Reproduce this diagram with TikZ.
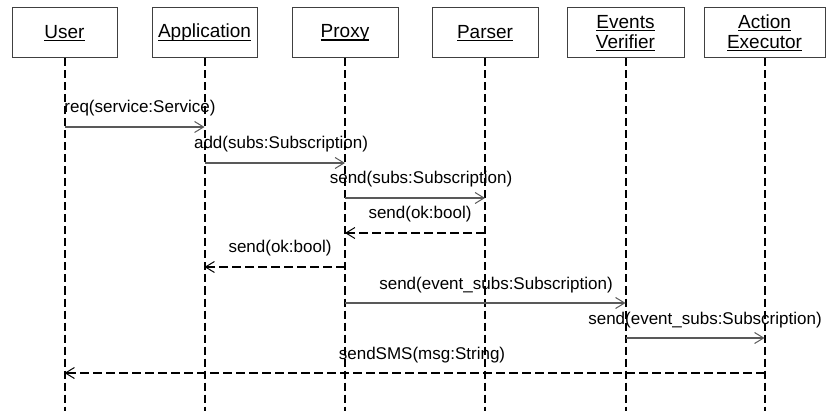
\documentclass[tikz,border=0pt]{standalone}
\usepackage{fontspec}
\setmainfont{Liberation Sans}
\usetikzlibrary{arrows.meta}
\newcommand{\ulname}[1]{{\setbox0\hbox{#1}\rlap{\rule[-3pt]{\wd0}{1.3pt}}\box0}}
\begin{document}
\begin{tikzpicture}[x=1pt,y=-1pt,
  obj/.style={draw=black!75, line width=1pt, minimum height=50pt, inner sep=0pt, align=center,
    font=\fontsize{19}{20}\selectfont},
  life/.style={line width=2pt, dash pattern=on 8pt off 4pt},
  tip/.style={-{Straight Barb[length=9pt,width=11pt,line width=1pt]}},
  msg/.style={tip, draw=black!65, line width=1.3pt},
  ret/.style={tip, line width=2pt, dash pattern=on 9pt off 4pt},
  lbl/.style={anchor=base, inner sep=0pt, font=\fontsize{17}{20}\selectfont}]
\useasboundingbox (0,0) rectangle (826,411);
\node[obj, minimum width=105pt] (user) at (64.5,33) {\ulname{User}};
\node[obj, minimum width=105pt] (app) at (204.5,33) {\ulname{Application}};
\node[obj, minimum width=106pt] (proxy) at (345,33) {\ulname{Proxy}};
\node[obj, minimum width=106pt] (parser) at (485,33) {\ulname{Parser}};
\node[obj, minimum width=117pt] (ev) at (625.5,33) {\ulname{Events}\\\ulname{Verifier}};
\node[obj, minimum width=121pt] (ae) at (764.5,33) {\ulname{Action}\\\ulname{Executor}};
\foreach \n in {user,app,proxy,parser,ev,ae}{
  \coordinate (\n-end) at (\n.south |- 0,411);
  \draw[life] (\n.south) -- (\n-end);
}
% messages
\draw[msg] (user.south |- 0,127) -- (app.south |- 0,127);
\node[lbl] (m1) at (140,113) {req(service:Service)};
\draw[msg] (app.south |- 0,163) -- (proxy.south |- 0,163);
\node[lbl] (m2) at (281,149) {add(subs:Subscription)};
\draw[msg] (proxy.south |- 0,198) -- (parser.south |- 0,198);
\node[lbl] (m3) at (421,184) {send(subs:Subscription)};
\draw[ret] (parser.south |- 0,233) -- (proxy.south |- 0,233);
\node[lbl] (m4) at (420,219) {send(ok:bool)};
\draw[ret] (proxy.south |- 0,267) -- (app.south |- 0,267);
\node[lbl] (m5) at (280,253) {send(ok:bool)};
\draw[msg] (proxy.south |- 0,303) -- (ev.south |- 0,303);
\node[lbl] (m6) at (496,289) {send(event\_subs:Subscription)};
\draw[msg] (ev.south |- 0,338) -- (ae.south |- 0,338);
\node[lbl] (m7) at (705,324) {send(event\_subs:Subscription)};
\draw[ret] (ae.south |- 0,373) -- (user.south |- 0,373);
\node[lbl] (m8) at (422,359) {sendSMS(msg:String)};
\end{tikzpicture}
\end{document}
